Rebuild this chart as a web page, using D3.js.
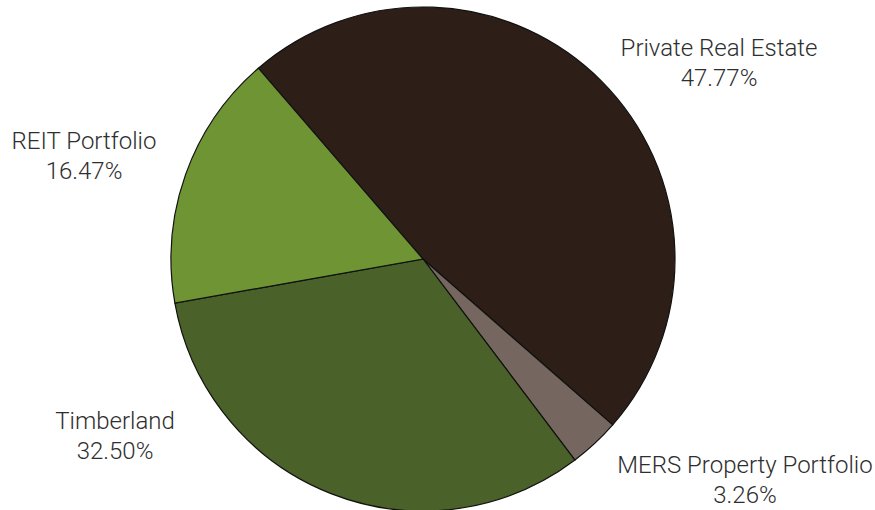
<!DOCTYPE html>
<html lang="en">
<head>
  <meta charset="UTF-8">
  <title>Real Estate Allocation</title>
  <script src="https://d3js.org/d3.v7.min.js"></script>
  <style>
    body { margin: 0; background: #fff; }
    svg { display: block; }
    .slice { stroke: #111; stroke-width: 1.2px; }
    .label text {
      font-family: "Helvetica Neue", Roboto, "Liberation Sans", sans-serif;
      font-weight: 300;
      font-size: 24px;
      fill: #2e2e2e;
    }
  </style>
</head>
<body>
<svg width="875" height="510"></svg>

<script>
  const svg = d3.select("svg");
  const width = 875, height = 510;

  // chart data
  const categories = ["Private Real Estate", "MERS Property Portfolio", "Timberland", "REIT Portfolio"];
  const shares = [47.77, 3.26, 32.50, 16.47];
  const colors = ["#2d1f18", "#756760", "#4a6229", "#6e9434"];
  // label anchor spots (baseline of first line, centered)
  const labelX = [719, 745, 115, 84];
  const labelY = [56, 473, 429, 149];

  const cx = 423, cy = 259, radius = 252;

  const pie = d3.pie()
    .sort(null)
    .value(d => d)
    .startAngle(-0.712)
    .endAngle(-0.712 + 2 * Math.PI);

  const arc = d3.arc().innerRadius(0).outerRadius(radius);

  const g = svg.append("g").attr("transform", `translate(${cx},${cy})`);

  g.selectAll("path.slice")
    .data(pie(shares))
    .join("path")
    .attr("class", "slice")
    .attr("d", arc)
    .style("fill", (d, i) => colors[i]);

  const labels = svg.selectAll("g.label")
    .data(categories)
    .join("g")
    .attr("class", "label")
    .attr("transform", (d, i) => `translate(${labelX[i]},${labelY[i]})`);

  labels.append("text")
    .attr("text-anchor", "middle")
    .text(d => d);

  labels.append("text")
    .attr("text-anchor", "middle")
    .attr("y", 29.5)
    .text((d, i) => shares[i].toFixed(2) + "%");
</script>
</body>
</html>
